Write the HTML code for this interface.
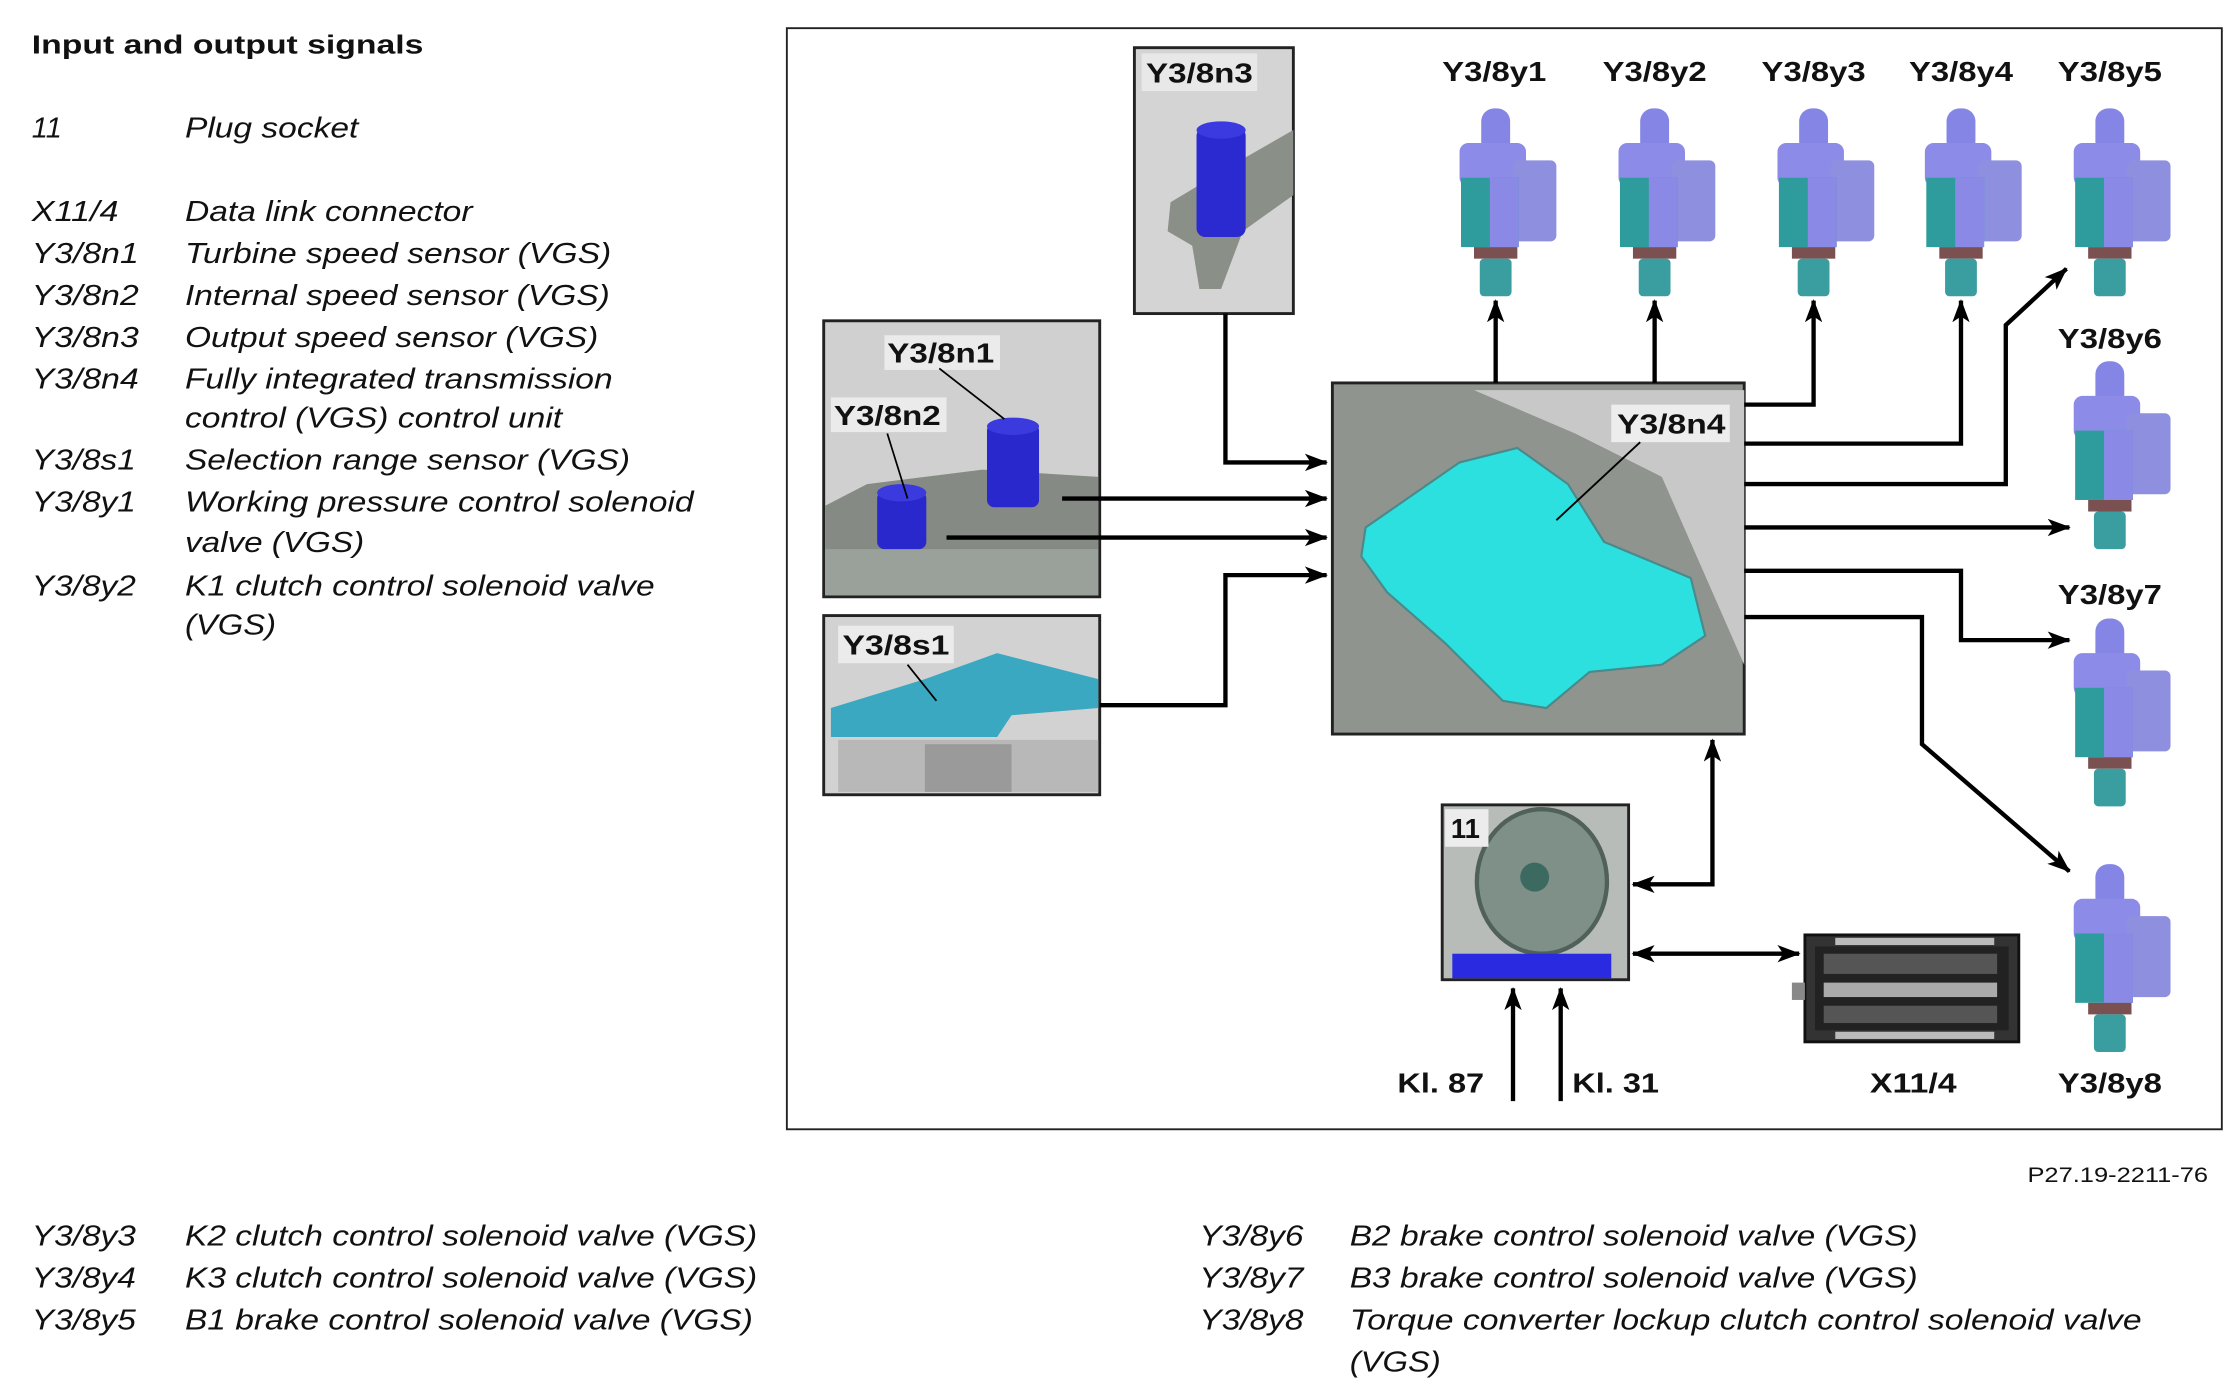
<!DOCTYPE html>
<html><head><meta charset="utf-8"><style>
html,body{margin:0;padding:0;background:#fff;}
svg{display:block;}
.t{font-family:"Liberation Sans",sans-serif;font-style:italic;font-size:20px;fill:#111;}
.b{font-family:"Liberation Sans",sans-serif;font-weight:bold;font-size:19px;fill:#111;}
.l{stroke:#000;stroke-width:3;fill:none;}
</style></head><body>
<svg width="2237" height="1393" viewBox="0 0 1548 964" preserveAspectRatio="none" xmlns="http://www.w3.org/2000/svg">
<defs>
<marker id="a" viewBox="0 0 16 12" refX="15" refY="6" markerWidth="16" markerHeight="12" markerUnits="userSpaceOnUse" orient="auto-start-reverse"><path d="M0,0 L16,6 L0,12 L4,6 z" fill="#000"/></marker>
<g id="sol">
<rect x="-10" y="0" width="20" height="32" rx="9" fill="#8585e6"/>
<rect x="-25" y="24" width="46" height="30" rx="6" fill="#8c8ce8"/>
<rect x="12" y="36" width="30" height="56" rx="4" fill="#8f8fe0"/>
<rect x="-24" y="48" width="40" height="48" fill="#2e9c9c"/>
<rect x="-4" y="48" width="20" height="48" fill="#8a8ae6"/>
<rect x="-15" y="96" width="30" height="8" fill="#7a5050"/>
<rect x="-11" y="104" width="22" height="26" rx="3" fill="#3a9da0"/>
</g>
</defs>

<text x="22" y="37" class="b" style="font-size:18px" textLength="271" lengthAdjust="spacingAndGlyphs">Input and output signals</text>
<g class="t">
<text x="22" y="95">11</text><text x="128" y="95" textLength="120" lengthAdjust="spacingAndGlyphs">Plug socket</text>
<text x="22" y="153" textLength="60" lengthAdjust="spacingAndGlyphs">X11/4</text><text x="128" y="153" textLength="199" lengthAdjust="spacingAndGlyphs">Data link connector</text>
<text x="22" y="182" textLength="74" lengthAdjust="spacingAndGlyphs">Y3/8n1</text><text x="128" y="182" textLength="295" lengthAdjust="spacingAndGlyphs">Turbine speed sensor (VGS)</text>
<text x="22" y="211" textLength="74" lengthAdjust="spacingAndGlyphs">Y3/8n2</text><text x="128" y="211" textLength="294" lengthAdjust="spacingAndGlyphs">Internal speed sensor (VGS)</text>
<text x="22" y="240" textLength="74" lengthAdjust="spacingAndGlyphs">Y3/8n3</text><text x="128" y="240" textLength="286" lengthAdjust="spacingAndGlyphs">Output speed sensor (VGS)</text>
<text x="22" y="269" textLength="74" lengthAdjust="spacingAndGlyphs">Y3/8n4</text><text x="128" y="269" textLength="296" lengthAdjust="spacingAndGlyphs">Fully integrated transmission</text>
<text x="128" y="296" textLength="261" lengthAdjust="spacingAndGlyphs">control (VGS) control unit</text>
<text x="22" y="325" textLength="72" lengthAdjust="spacingAndGlyphs">Y3/8s1</text><text x="128" y="325" textLength="308" lengthAdjust="spacingAndGlyphs">Selection range sensor (VGS)</text>
<text x="22" y="354" textLength="72" lengthAdjust="spacingAndGlyphs">Y3/8y1</text><text x="128" y="354" textLength="352" lengthAdjust="spacingAndGlyphs">Working pressure control solenoid</text>
<text x="128" y="382" textLength="124" lengthAdjust="spacingAndGlyphs">valve (VGS)</text>
<text x="22" y="412" textLength="72" lengthAdjust="spacingAndGlyphs">Y3/8y2</text><text x="128" y="412" textLength="325" lengthAdjust="spacingAndGlyphs">K1 clutch control solenoid valve</text>
<text x="128" y="439" textLength="63" lengthAdjust="spacingAndGlyphs">(VGS)</text>
<text x="22" y="862" textLength="72" lengthAdjust="spacingAndGlyphs">Y3/8y3</text><text x="128" y="862" textLength="396" lengthAdjust="spacingAndGlyphs">K2 clutch control solenoid valve (VGS)</text>
<text x="22" y="891" textLength="72" lengthAdjust="spacingAndGlyphs">Y3/8y4</text><text x="128" y="891" textLength="396" lengthAdjust="spacingAndGlyphs">K3 clutch control solenoid valve (VGS)</text>
<text x="22" y="920" textLength="72" lengthAdjust="spacingAndGlyphs">Y3/8y5</text><text x="128" y="920" textLength="393" lengthAdjust="spacingAndGlyphs">B1 brake control solenoid valve (VGS)</text>
<text x="830" y="862" textLength="72" lengthAdjust="spacingAndGlyphs">Y3/8y6</text><text x="934" y="862" textLength="393" lengthAdjust="spacingAndGlyphs">B2 brake control solenoid valve (VGS)</text>
<text x="830" y="891" textLength="72" lengthAdjust="spacingAndGlyphs">Y3/8y7</text><text x="934" y="891" textLength="393" lengthAdjust="spacingAndGlyphs">B3 brake control solenoid valve (VGS)</text>
<text x="830" y="920" textLength="72" lengthAdjust="spacingAndGlyphs">Y3/8y8</text><text x="934" y="920" textLength="548" lengthAdjust="spacingAndGlyphs">Torque converter lockup clutch control solenoid valve</text>
<text x="934" y="949" textLength="63" lengthAdjust="spacingAndGlyphs">(VGS)</text>
</g>
<text x="1403" y="818" style="font-family:'Liberation Sans',sans-serif;font-size:15px;fill:#111" textLength="125" lengthAdjust="spacingAndGlyphs">P27.19-2211-76</text>

<rect x="544.5" y="19.5" width="993" height="762" fill="none" stroke="#222" stroke-width="1.3"/>

<rect x="785" y="33" width="110" height="184" fill="#d4d4d4" stroke="#222" stroke-width="2"/>
<path d="M810,140 L860,110 L895,90 L895,135 L860,160 L845,200 L830,200 L825,170 L808,160z" fill="#8a8f88"/>
<rect x="828" y="88" width="34" height="76" rx="6" fill="#2a2ad0"/>
<ellipse cx="845" cy="90" rx="17" ry="6" fill="#3a3ae0"/>
<rect x="790" y="37" width="80" height="26" fill="#e8e8e8"/>
<text x="793" y="57" class="b" textLength="74" lengthAdjust="spacingAndGlyphs">Y3/8n3</text>

<rect x="570" y="222" width="191" height="191" fill="#d0d0d0" stroke="#222" stroke-width="2"/>
<path d="M571,350 L600,335 L680,325 L760,330 L760,412 L571,412z" fill="#858a85"/>
<path d="M571,380 L760,380 L760,412 L571,412z" fill="#9aa09a"/>
<rect x="607" y="340" width="34" height="40" rx="5" fill="#2828cc"/>
<ellipse cx="624" cy="341" rx="17" ry="6" fill="#3a3ade"/>
<rect x="683" y="293" width="36" height="58" rx="5" fill="#2828cc"/>
<ellipse cx="701" cy="295" rx="18" ry="6" fill="#3a3ade"/>
<rect x="612" y="232" width="80" height="24" fill="#ebebeb"/>
<text x="614" y="251" class="b" textLength="74" lengthAdjust="spacingAndGlyphs">Y3/8n1</text>
<rect x="575" y="275" width="80" height="24" fill="#ebebeb"/>
<text x="577" y="294" class="b" textLength="74" lengthAdjust="spacingAndGlyphs">Y3/8n2</text>
<line x1="650" y1="255" x2="695" y2="290" stroke="#000" stroke-width="1.2"/>
<line x1="614" y1="300" x2="628" y2="345" stroke="#000" stroke-width="1.2"/>

<rect x="570" y="426" width="191" height="124" fill="#d2d2d2" stroke="#222" stroke-width="2"/>
<path d="M575,490 L640,470 L690,452 L760,470 L760,490 L700,495 L690,510 L575,510z" fill="#3aa8c0"/>
<rect x="580" y="512" width="180" height="36" fill="#b8b8b8"/>
<rect x="640" y="515" width="60" height="33" fill="#9a9a9a"/>
<rect x="580" y="433" width="80" height="26" fill="#ebebeb"/>
<text x="583" y="453" class="b" textLength="74" lengthAdjust="spacingAndGlyphs">Y3/8s1</text>
<line x1="628" y1="460" x2="648" y2="485" stroke="#000" stroke-width="1.2"/>

<rect x="922" y="265" width="285" height="243" fill="#8f948f" stroke="#222" stroke-width="2"/>
<path d="M1020,270 L1207,270 L1207,460 L1150,330 L1090,300z" fill="#c8c8c8"/>
<path d="M945,365 L1010,320 L1050,310 L1085,335 L1110,375 L1170,400 L1180,440 L1150,460 L1100,465 L1070,490 L1040,485 L1000,445 L960,410 L942,385z" fill="#2de0e0" stroke="#4a8a8a" stroke-width="1.5"/>
<rect x="1115" y="280" width="82" height="26" fill="#ededed"/>
<text x="1119" y="300" class="b" textLength="75" lengthAdjust="spacingAndGlyphs">Y3/8n4</text>
<line x1="1135" y1="306" x2="1077" y2="360" stroke="#000" stroke-width="1.3"/>

<rect x="998" y="557" width="129" height="121" fill="#b8bcb8" stroke="#222" stroke-width="2"/>
<ellipse cx="1067" cy="610" rx="45" ry="50" fill="#7e9088" stroke="#50605a" stroke-width="3"/>
<circle cx="1062" cy="607" r="10" fill="#3c6a60"/>
<rect x="1005" y="660" width="110" height="17" fill="#2a2ae0"/>
<rect x="1000" y="560" width="30" height="26" fill="#ececec"/>
<text x="1004" y="580" class="b">11</text>

<rect x="1249" y="647" width="148" height="74" fill="#333" stroke="#111" stroke-width="2"/>
<rect x="1256" y="655" width="134" height="58" fill="#222"/>
<rect x="1262" y="660" width="120" height="14" fill="#555"/>
<rect x="1262" y="680" width="120" height="10" fill="#aaa"/>
<rect x="1262" y="696" width="120" height="12" fill="#555"/>
<rect x="1270" y="714" width="110" height="5" fill="#bbb"/>
<rect x="1270" y="649" width="110" height="5" fill="#bbb"/>
<rect x="1240" y="680" width="9" height="12" fill="#888"/>

<use href="#sol" x="1035" y="75"/>
<use href="#sol" x="1145" y="75"/>
<use href="#sol" x="1255" y="75"/>
<use href="#sol" x="1357" y="75"/>
<use href="#sol" x="1460" y="75"/>
<use href="#sol" x="1460" y="250"/>
<use href="#sol" x="1460" y="428"/>
<use href="#sol" x="1460" y="598"/>

<g class="b">
<text x="998" y="56" textLength="72" lengthAdjust="spacingAndGlyphs">Y3/8y1</text>
<text x="1109" y="56" textLength="72" lengthAdjust="spacingAndGlyphs">Y3/8y2</text>
<text x="1219" y="56" textLength="72" lengthAdjust="spacingAndGlyphs">Y3/8y3</text>
<text x="1321" y="56" textLength="72" lengthAdjust="spacingAndGlyphs">Y3/8y4</text>
<text x="1424" y="56" textLength="72" lengthAdjust="spacingAndGlyphs">Y3/8y5</text>
<text x="1424" y="241" textLength="72" lengthAdjust="spacingAndGlyphs">Y3/8y6</text>
<text x="1424" y="418" textLength="72" lengthAdjust="spacingAndGlyphs">Y3/8y7</text>
<text x="1424" y="756" textLength="72" lengthAdjust="spacingAndGlyphs">Y3/8y8</text>
<text x="967" y="756" textLength="60" lengthAdjust="spacingAndGlyphs">Kl. 87</text>
<text x="1088" y="756" textLength="60" lengthAdjust="spacingAndGlyphs">Kl. 31</text>
<text x="1294" y="756" textLength="60" lengthAdjust="spacingAndGlyphs">X11/4</text>
</g>

<g class="l">
<polyline points="848,217 848,320 918,320" marker-end="url(#a)"/>
<polyline points="735,345 918,345" marker-end="url(#a)"/>
<polyline points="655,372 918,372" marker-end="url(#a)"/>
<polyline points="761,488 848,488 848,398 918,398" marker-end="url(#a)"/>
<polyline points="1035,265 1035,208" marker-end="url(#a)"/>
<polyline points="1145,265 1145,208" marker-end="url(#a)"/>
<polyline points="1207,280 1255,280 1255,208" marker-end="url(#a)"/>
<polyline points="1207,307 1357,307 1357,208" marker-end="url(#a)"/>
<polyline points="1207,335 1388,335 1388,225 1430,186" marker-end="url(#a)"/>
<polyline points="1207,365 1432,365" marker-end="url(#a)"/>
<polyline points="1207,395 1357,395 1357,443 1432,443" marker-end="url(#a)"/>
<polyline points="1207,427 1330,427 1330,515 1432,603" marker-end="url(#a)"/>
<polyline points="1185,512 1185,612 1130,612" marker-start="url(#a)" marker-end="url(#a)"/>
<polyline points="1130,660 1245,660" marker-start="url(#a)" marker-end="url(#a)"/>
<polyline points="1047,762 1047,684" marker-end="url(#a)"/>
<polyline points="1080,762 1080,684" marker-end="url(#a)"/>
</g>
</svg>
</body></html>
